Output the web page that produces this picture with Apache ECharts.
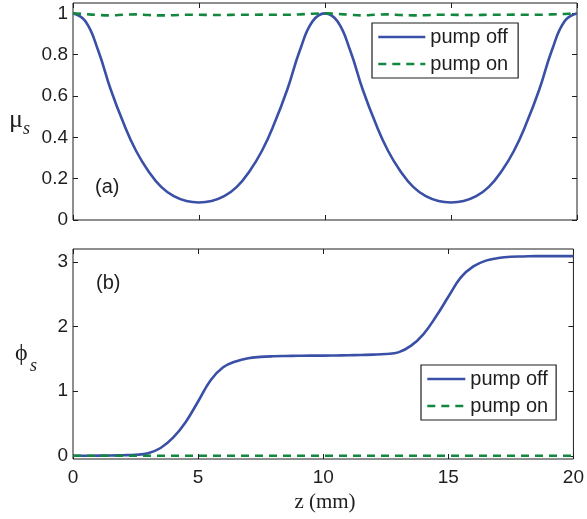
<!DOCTYPE html>
<html><head><meta charset="utf-8">
<script src="https://cdn.jsdelivr.net/npm/echarts@6/dist/echarts.min.js"></script>
<style>html,body{margin:0;padding:0;background:#fff}#c{width:587px;height:519px}</style>
</head><body><div id="c"></div>
<script>
const zVals = [0,0.5,1,1.5,2,2.5,3,3.5,4,4.5,5,5.5,6,6.5,7,7.5,8,8.5,9,9.5,10,10.5,11,11.5,12,12.5,13,13.5,14,14.5,15,15.5,16,16.5,17,17.5,18,18.5,19,19.5,20];
const muOff = [1.0,0.96,0.82,0.63,0.47,0.335,0.235,0.16,0.115,0.092,0.085,
  0.092,0.115,0.16,0.235,0.335,0.47,0.63,0.82,0.96,1.0,
  0.96,0.82,0.63,0.47,0.335,0.235,0.16,0.115,0.092,0.085,
  0.092,0.115,0.16,0.235,0.335,0.47,0.63,0.82,0.96,1.0];
const muOn = [1.0,0.996,0.992,0.99,0.993,0.995,0.992,0.99,0.991,0.993,0.993,
  0.992,0.992,0.993,0.993,0.994,0.993,0.993,0.995,0.998,1.0,
  0.997,0.993,0.99,0.993,0.995,0.992,0.99,0.991,0.993,0.993,
  0.992,0.992,0.993,0.993,0.994,0.993,0.993,0.995,0.997,1.0];
const phiOff = [0,0,0.002,0.004,0.008,0.015,0.04,0.12,0.28,0.52,
  0.84,1.17,1.37,1.46,1.51,1.53,1.54,1.545,1.548,1.55,
  1.55,1.552,1.555,1.56,1.565,1.575,1.60,1.70,1.88,2.15,
  2.46,2.76,2.93,3.02,3.06,3.08,3.085,3.09,3.09,3.09,3.09];
const phiOn = [0,0,0,0,0,0,0,0,0,0,0,0,0,0,0,0,0,0,0,0,0,0,0,0,0,0,0,0,0,0,0,0,0,0,0,0,0,0,0,0,0];
const muTicks = [0,0.2,0.4,0.6,0.8,1];
const phiTicks = [0,1,2,3];
const seriesNames = ['pump off','pump on'];

const pair = (ys) => zVals.map((z,i)=>[z, ys[i]]);
const BLUE = '#3a4fa6', GREEN = '#12883e', INK = '#1e1e1e';
const SANS = 'Liberation Sans', SERIF = 'Liberation Serif';

function xAx(grid, pos, labels){
  return {type:'value', gridIndex:grid, position:pos, min:0, max:20, interval:5,
    axisLine:{show:false, onZero:false}, splitLine:{show:false},
    axisTick:{show:true, inside:true, length:5, lineStyle:{color:INK}},
    axisLabel:{show:labels, margin:9, fontSize:19, fontFamily:SANS, color:INK}};
}
function yAx(grid, pos, min, max, ticks, labels){
  return {type:'value', gridIndex:grid, position:pos, min:min, max:max,
    axisLine:{show:false, onZero:false}, splitLine:{show:false},
    axisTick:{show:true, inside:true, length:5, customValues:ticks, lineStyle:{color:INK}},
    axisLabel:{show:labels, customValues:ticks, margin:5, fontSize:19, fontFamily:SANS, color:INK}};
}
function legendBox(left, top, w, padR){
  return {show:true, left:left, top:top, orient:'vertical', data:seriesNames,
    itemWidth:w, itemHeight:14, itemGap:7, padding:[4,padR,4,5],
    borderColor:INK, borderWidth:1.2, backgroundColor:'#fff', selectedMode:false,
    itemStyle:{color:'rgba(0,0,0,0)', borderColor:'rgba(0,0,0,0)', borderWidth:0, opacity:0},
    lineStyle:{width:2.6},
    textStyle:{fontSize:20, fontFamily:SANS, color:INK, lineHeight:20}};
}
const chart = echarts.init(document.getElementById('c'), null, {renderer:'canvas'});
chart.setOption({
  animation:false,
  grid:[
    {left:73, right:10, top:3, height:217, show:true, borderColor:INK, borderWidth:1, backgroundColor:'transparent'},
    {left:73, right:10, top:249, height:210, show:true, borderColor:INK, borderWidth:1, backgroundColor:'transparent'}
  ],
  xAxis:[xAx(0,'bottom',false), xAx(0,'top',false), xAx(1,'bottom',true), xAx(1,'top',false)],
  yAxis:[yAx(0,'left',0,1.05,muTicks,true), yAx(0,'right',0,1.05,muTicks,false),
         yAx(1,'left',-0.05,3.2,phiTicks,true), yAx(1,'right',-0.05,3.2,phiTicks,false)],
  legend:[legendBox(372,23,47,10), legendBox(421,365,38,8)],
  series:[
    {name:'pump off', type:'line', xAxisIndex:0, yAxisIndex:0, data:pair(muOff), symbol:'none', smooth:0.45,
      lineStyle:{color:BLUE, width:2.6}, itemStyle:{color:BLUE}},
    {name:'pump on', type:'line', xAxisIndex:0, yAxisIndex:0, data:pair(muOn), symbol:'none', smooth:0.35,
      lineStyle:{color:GREEN, width:2.6, type:[8,6]}, itemStyle:{color:GREEN}},
    {name:'pump off', type:'line', xAxisIndex:2, yAxisIndex:2, data:pair(phiOff), symbol:'none', smooth:0.4,
      lineStyle:{color:BLUE, width:2.6}, itemStyle:{color:BLUE}},
    {name:'pump on', type:'line', xAxisIndex:2, yAxisIndex:2, data:pair(phiOn), symbol:'none',
      lineStyle:{color:GREEN, width:2.6, type:[8,6]}, itemStyle:{color:GREEN}, z:3}
  ],
  graphic:[
    {type:'text', left:95, top:177, style:{text:'(a)', fontSize:20, fontFamily:SANS, fill:INK}},
    {type:'text', left:96, top:273, style:{text:'(b)', fontSize:20, fontFamily:SANS, fill:INK}},
    {type:'text', left:9, top:107, style:{text:'μ', fontSize:26, fontFamily:SERIF, fill:INK}},
    {type:'text', left:23, top:120, style:{text:'s', fontSize:18, fontStyle:'italic', fontFamily:SERIF, fill:INK}},
    {type:'text', left:15, top:342, style:{text:'ϕ', fontSize:24, fontFamily:SERIF, fill:INK}},
    {type:'text', left:30, top:357, style:{text:'s', fontSize:18, fontStyle:'italic', fontFamily:SERIF, fill:INK}},
    {type:'text', x:325, y:502, style:{text:'z (mm)', fontSize:21, fontFamily:SERIF, fill:INK, align:'center', verticalAlign:'middle'}}
  ]
});
</script></body></html>
